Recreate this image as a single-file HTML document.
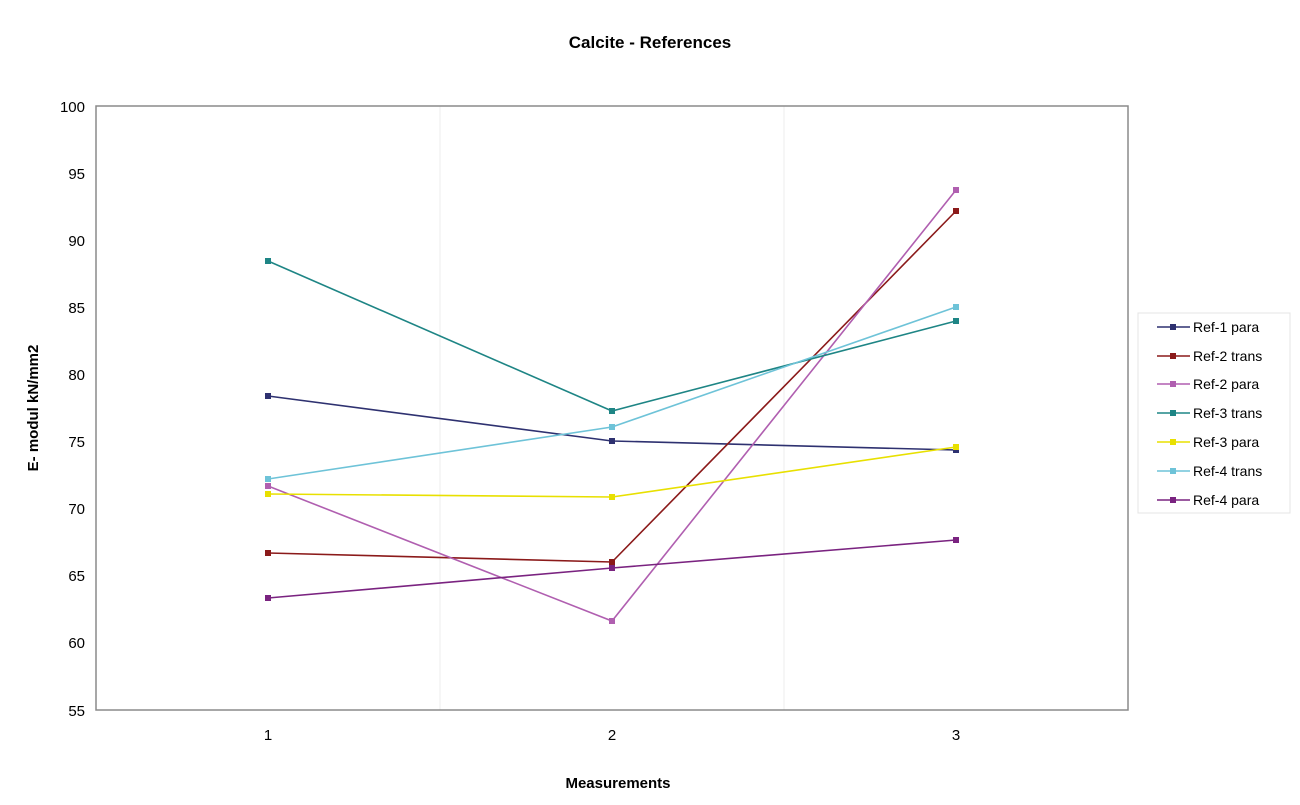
<!DOCTYPE html>
<html><head><meta charset="utf-8"><style>body{margin:0;background:#fff}svg{display:block}text{font-family:"Liberation Sans",Arial,sans-serif;fill:#000}</style></head><body>
<svg width="1300" height="805" viewBox="0 0 1300 805">
<rect width="1300" height="805" fill="#fff"/>
<text x="650" y="48" font-size="17" font-weight="bold" text-anchor="middle">Calcite - References</text>
<g stroke="#ececec" stroke-width="1">
<line x1="440" y1="106" x2="440" y2="710"/><line x1="784" y1="106" x2="784" y2="710"/>
</g>
<rect x="96" y="106" width="1032" height="604" fill="none" stroke="#8a8a8a" stroke-width="1.5"/>
<g font-size="15" text-anchor="end">
<text x="85" y="112">100</text><text x="85" y="179">95</text><text x="85" y="246">90</text><text x="85" y="313">85</text><text x="85" y="380">80</text><text x="85" y="447">75</text><text x="85" y="514">70</text><text x="85" y="581">65</text><text x="85" y="648">60</text><text x="85" y="716">55</text>
</g>
<g font-size="15" text-anchor="middle"><text x="268" y="740">1</text><text x="612" y="740">2</text><text x="956" y="740">3</text></g>
<text x="618" y="788" font-size="15" font-weight="bold" text-anchor="middle">Measurements</text>
<text transform="translate(38,408) rotate(-90)" font-size="15" font-weight="bold" text-anchor="middle">E- modul kN/mm2</text>
<g fill="none" stroke-width="1.6">
<polyline stroke="#2e3170" points="268,396 612,441 956,450"/>
<polyline stroke="#8b1a1a" points="268,553 612,562 956,211"/>
<polyline stroke="#b05fb0" points="268,486 612,621 956,190"/>
<polyline stroke="#1e8585" points="268,261 612,411 956,321"/>
<polyline stroke="#e8e000" points="268,494 612,497 956,447"/>
<polyline stroke="#6ec3d8" points="268,479 612,427 956,307"/>
<polyline stroke="#7a2380" points="268,598 612,568 956,540"/>
</g>
<g>
<g fill="#2e3170"><rect x="265" y="393" width="6" height="6"/><rect x="609" y="438" width="6" height="6"/><rect x="953" y="447" width="6" height="6"/></g>
<g fill="#8b1a1a"><rect x="265" y="550" width="6" height="6"/><rect x="609" y="559" width="6" height="6"/><rect x="953" y="208" width="6" height="6"/></g>
<g fill="#b05fb0"><rect x="265" y="483" width="6" height="6"/><rect x="609" y="618" width="6" height="6"/><rect x="953" y="187" width="6" height="6"/></g>
<g fill="#1e8585"><rect x="265" y="258" width="6" height="6"/><rect x="609" y="408" width="6" height="6"/><rect x="953" y="318" width="6" height="6"/></g>
<g fill="#e8e000"><rect x="265" y="491" width="6" height="6"/><rect x="609" y="494" width="6" height="6"/><rect x="953" y="444" width="6" height="6"/></g>
<g fill="#6ec3d8"><rect x="265" y="476" width="6" height="6"/><rect x="609" y="424" width="6" height="6"/><rect x="953" y="304" width="6" height="6"/></g>
<g fill="#7a2380"><rect x="265" y="595" width="6" height="6"/><rect x="609" y="565" width="6" height="6"/><rect x="953" y="537" width="6" height="6"/></g>
</g>
<rect x="1138" y="313" width="152" height="200" fill="#fff" stroke="#e4e4e4"/>
<g font-size="14">
<line x1="1157" y1="327" x2="1190" y2="327" stroke="#2e3170" stroke-width="1.6"/><rect x="1170" y="324" width="6" height="6" fill="#2e3170"/><text x="1193" y="332">Ref-1 para</text>
<line x1="1157" y1="356" x2="1190" y2="356" stroke="#8b1a1a" stroke-width="1.6"/><rect x="1170" y="353" width="6" height="6" fill="#8b1a1a"/><text x="1193" y="361">Ref-2 trans</text>
<line x1="1157" y1="384" x2="1190" y2="384" stroke="#b05fb0" stroke-width="1.6"/><rect x="1170" y="381" width="6" height="6" fill="#b05fb0"/><text x="1193" y="389">Ref-2 para</text>
<line x1="1157" y1="413" x2="1190" y2="413" stroke="#1e8585" stroke-width="1.6"/><rect x="1170" y="410" width="6" height="6" fill="#1e8585"/><text x="1193" y="418">Ref-3 trans</text>
<line x1="1157" y1="442" x2="1190" y2="442" stroke="#e8e000" stroke-width="1.6"/><rect x="1170" y="439" width="6" height="6" fill="#e8e000"/><text x="1193" y="447">Ref-3 para</text>
<line x1="1157" y1="471" x2="1190" y2="471" stroke="#6ec3d8" stroke-width="1.6"/><rect x="1170" y="468" width="6" height="6" fill="#6ec3d8"/><text x="1193" y="476">Ref-4 trans</text>
<line x1="1157" y1="500" x2="1190" y2="500" stroke="#7a2380" stroke-width="1.6"/><rect x="1170" y="497" width="6" height="6" fill="#7a2380"/><text x="1193" y="505">Ref-4 para</text>
</g>
</svg>
</body></html>
